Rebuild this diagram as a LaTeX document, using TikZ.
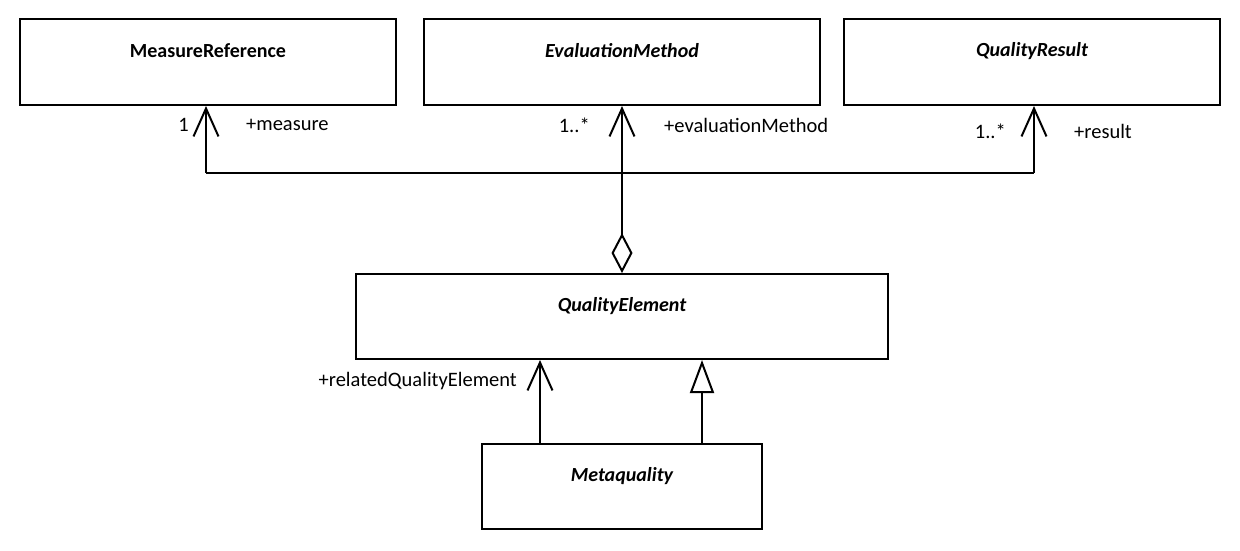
\documentclass[tikz,border=0pt]{standalone}
\usepackage{fontspec}
\setmainfont{Carlito}
\usetikzlibrary{arrows.meta}
\begin{document}
\begin{tikzpicture}[x=1pt,y=-1pt,
  cls/.style={draw,line width=2pt,inner sep=0pt,fill=white},
  cname/.style={font=\fontsize{20}{24}\selectfont\bfseries\itshape,anchor=center,inner sep=0pt},
  lbl/.style={font=\fontsize{20.5}{24}\selectfont,inner sep=0pt},
  conn/.style={line width=2pt},
  assoc/.style={conn,-{Straight Barb[length=28pt,width=25pt,line width=2pt]}},
  gen/.style={conn,-{Triangle[open,length=33pt,width=24pt,line width=2pt]}},
  agg/.style={conn,{Diamond[open,length=40pt,width=21pt,line width=2pt]}-{Straight Barb[length=28pt,width=25pt,line width=2pt]}}
]
\useasboundingbox[fill=white] (0,0) rectangle (1240,550);
% classes
\node[cls,minimum width=376pt,minimum height=86pt] (mr) at (208,62) {};
\node[cls,minimum width=396pt,minimum height=86pt] (em) at (622,62) {};
\node[cls,minimum width=376pt,minimum height=86pt] (qr) at (1032,62) {};
\node[cls,minimum width=532pt,minimum height=85pt] (qe) at (622,316.5) {};
\node[cls,minimum width=280pt,minimum height=85pt] (mq) at (622,486.5) {};
% class names
\node[cname,font=\fontsize{20}{24}\selectfont\bfseries] (mrt) at (208,51) {MeasureReference};
\node[cname] (emt) at (622,51) {EvaluationMethod};
\node[cname] (qrt) at (1032,51) {QualityResult};
\node[cname] (qet) at (622,306) {QualityElement};
\node[cname] (mqt) at (622,476) {Metaquality};
% connectors
\coordinate (j1) at (206,173);
\coordinate (j3) at (1034,173);
\draw[conn] (j1) -- (j3);
\draw[assoc] (j1) -- (j1 |- mr.south);
\draw[assoc] (j3) -- (j3 |- qr.south);
\draw[agg] (qe.north) -- (em.south);
\coordinate (a1) at (540,444);
\coordinate (a2) at (702,444);
\draw[assoc] (a1) -- (a1 |- qe.south);
\draw[gen] (a2) -- (a2 |- qe.south);
% labels
\node[lbl,anchor=east] (l1) at (189,125) {1};
\node[lbl,anchor=west] (l2) at (246,125) {+measure};
\node[lbl,anchor=east] (l3) at (590,125) {1..*};
\node[lbl,anchor=west] (l4) at (664,125) {+evaluationMethod};
\node[lbl,anchor=east] (l5) at (1006,131) {1..*};
\node[lbl,anchor=west] (l6) at (1074,131) {+result};
\node[lbl,anchor=east] (l7) at (517,381) {+relatedQualityElement};
\end{tikzpicture}
\end{document}
